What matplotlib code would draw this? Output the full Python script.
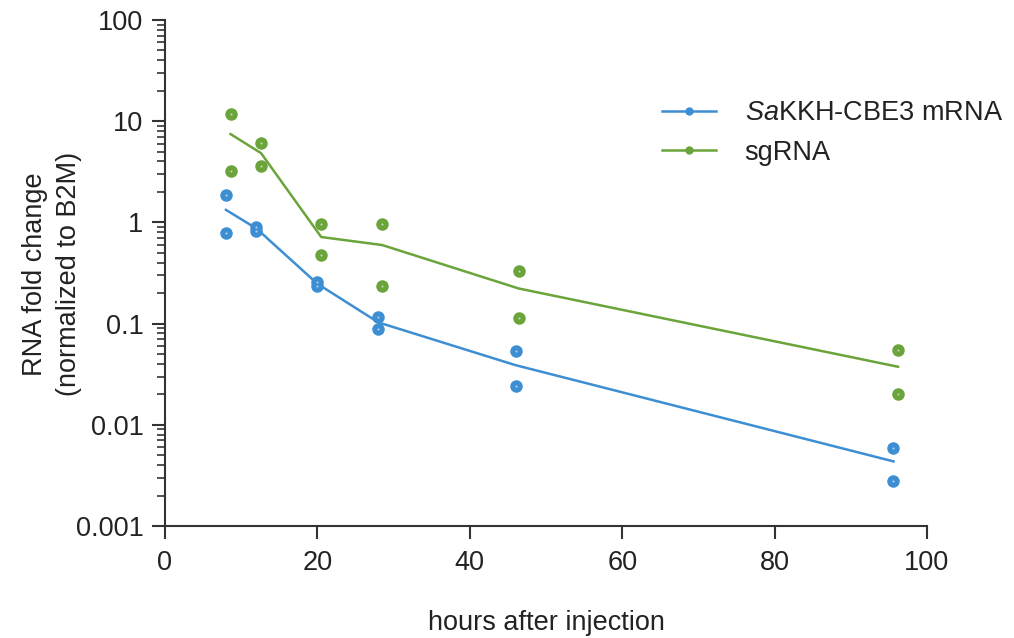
import matplotlib
matplotlib.use('Agg')
import matplotlib.pyplot as plt
from matplotlib.lines import Line2D
from matplotlib.ticker import LogLocator, FuncFormatter, NullFormatter
import numpy as np

plt.rcParams['font.family'] = ['Liberation Sans', 'DejaVu Sans']
plt.rcParams['mathtext.fontset'] = 'custom'
plt.rcParams['mathtext.rm'] = 'Liberation Sans'
plt.rcParams['mathtext.it'] = 'Liberation Sans:italic'

# two replicates per time point, line goes through the mean
hours_mrna = [8, 12, 20, 28, 46, 95.6]
mrna_rep1 = [1.87, 0.91, 0.26, 0.117, 0.0536, 0.0059]
mrna_rep2 = [0.79, 0.83, 0.235, 0.0885, 0.0241, 0.0028]

hours_sg = [8.6, 12.6, 20.5, 28.5, 46.4, 96.2]
sg_rep1 = [11.7, 6.05, 0.957, 0.96, 0.331, 0.0548]
sg_rep2 = [3.22, 3.63, 0.477, 0.235, 0.114, 0.0201]

blue = '#3d8ed3'
green = '#6aa43a'
axcol = '#333333'
txtcol = '#222222'
fs = 19.5

fig = plt.figure(figsize=(10.14, 6.38), dpi=100)
ax = fig.add_axes([165/1014, 1-526/638, (927-165)/1014, (526-20)/638])

def series(x, r1, r2, col):
    m = (np.array(r1) + np.array(r2)) / 2
    ax.plot(x, m, color=col, lw=1.8, zorder=2)
    for r in (r1, r2):
        ax.plot(x, r, 'o', color=col, ms=9, mew=0, zorder=3)
        ax.plot(x, r, 'o', color='white', ms=1.5, mew=0, alpha=0.6, zorder=4)

series(hours_mrna, mrna_rep1, mrna_rep2, blue)
series(hours_sg, sg_rep1, sg_rep2, green)

ax.set_yscale('log')
ax.set_ylim(0.001, 100)
ax.set_xlim(0, 100)
ax.set_xticks([0, 20, 40, 60, 80, 100])
ax.yaxis.set_major_locator(LogLocator(base=10, numticks=10))
ax.yaxis.set_minor_locator(LogLocator(base=10, subs=np.arange(2, 10), numticks=10))
ax.yaxis.set_major_formatter(FuncFormatter(lambda v, p: '%g' % v))
ax.yaxis.set_minor_formatter(NullFormatter())

for s in ['top', 'right']:
    ax.spines[s].set_visible(False)
for s in ['left', 'bottom']:
    ax.spines[s].set_linewidth(1.5)
    ax.spines[s].set_color(axcol)

ax.tick_params(axis='both', which='major', direction='out', length=9.5, width=1.5,
               color=axcol, labelsize=fs, labelcolor=txtcol)
ax.tick_params(axis='y', which='minor', direction='out', length=5.5, width=1.2, color=axcol)
ax.tick_params(axis='x', which='major', pad=8)
ax.tick_params(axis='y', which='major', pad=6)

ax.set_xlabel('hours after injection', fontsize=fs, color=txtcol, labelpad=24)
fig.text(52/1014, 1-274/638, 'RNA fold change\n(normalized to B2M)', rotation=90,
         ha='center', va='center', fontsize=fs, color=txtcol, linespacing=1.4)

handles = [Line2D([], [], color=blue, lw=1.8, marker='o', ms=6, mew=0),
           Line2D([], [], color=green, lw=1.8, marker='o', ms=6, mew=0)]
labels = [r'$\it{Sa}$KKH-CBE3 mRNA', 'sgRNA']
leg = fig.legend(handles, labels, loc='upper left', bbox_to_anchor=(662/1014, 1-100/638),
                 frameon=False, fontsize=fs, handlelength=2.0, handletextpad=1.05,
                 labelspacing=0.5, borderpad=0, borderaxespad=0)
for t in leg.get_texts():
    t.set_color(txtcol)

fig.savefig('out.png', dpi=100)
